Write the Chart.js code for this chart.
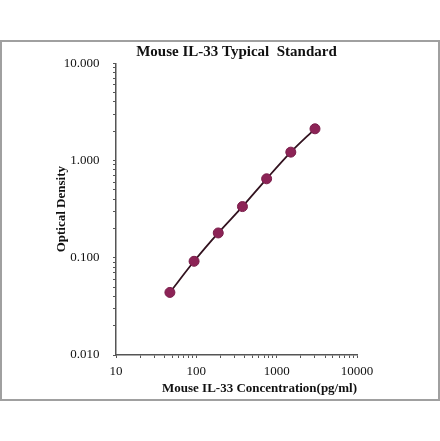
<!DOCTYPE html>
<html>
<head>
<meta charset="utf-8">
<script src="https://cdn.jsdelivr.net/npm/chart.js@4"></script>
<style>
  html, body { margin: 0; padding: 0; background: #fff; }
  #wrap { position: relative; width: 440px; height: 441px; }
  #frame { position: absolute; left: 0; top: 40px; width: 436px; height: 357px; border: 2px solid #a0a0a0; box-sizing: content-box; }
  canvas { position: absolute; left: 0; top: 0; }
</style>
</head>
<body>
<div id="wrap">
  <div id="frame"></div>
  <canvas id="chart" width="440" height="441"></canvas>
</div>
<script>
// 标准曲线数据
const concentrations = [46.875, 93.75, 187.5, 375, 750, 1500, 3000];
const odValues = [0.044, 0.092, 0.18, 0.336, 0.649, 1.22, 2.12];

// 坐标轴刻度
const xDecades = [10, 100, 1000, 10000];
const yDecades = [0.01, 0.1, 1, 10];
const minorSteps = [2, 3, 4, 5, 6, 7, 8, 9];

const serif = "'Times New Roman', 'Liberation Serif', serif";

function buildTicks(decades) {
    const ticks = [];
    decades.forEach((d, i) => {
        ticks.push({ value: d });
        if (i < decades.length - 1) {
            minorSteps.forEach(m => ticks.push({ value: d * m }));
        }
    });
    return ticks;
}

function isDecade(v) {
    const l = Math.log10(v);
    return Math.abs(l - Math.round(l)) < 1e-9;
}

const ctx = document.getElementById('chart');
new Chart(ctx, {
    type: 'line',
    data: {
        datasets: [{
            data: concentrations.map((c, i) => ({ x: c, y: odValues[i] })),
            borderColor: '#331320',
            borderWidth: 1.8,
            backgroundColor: '#8c2356',
            pointBackgroundColor: '#8c2356',
            pointBorderColor: '#7a1d4a',
            pointBorderWidth: 1,
            pointRadius: 5,
            tension: 0.3,
            cubicInterpolationMode: 'monotone'
        }]
    },
    options: {
        responsive: false,
        animation: false,
        layout: { padding: { left: 0, top: 0, right: 83, bottom: 0 } },
        plugins: {
            legend: { display: false },
            tooltip: { enabled: false },
            title: {
                display: true,
                text: 'Mouse IL-33 Typical  Standard',
                fullSize: false,
                color: '#111',
                font: { family: serif, size: 15, weight: 'bold' },
                padding: { top: 43, bottom: 2.3 }
            }
        },
        scales: {
            x: {
                type: 'logarithmic',
                min: 10,
                max: 10000,
                afterBuildTicks: s => { s.ticks = buildTicks(xDecades); },
                afterFit: s => { s.height = 86; },
                border: { color: '#555', width: 1.5 },
                grid: { drawOnChartArea: false, drawTicks: true, tickLength: 3, color: '#555' },
                ticks: {
                    autoSkip: false,
                    maxRotation: 0,
                    padding: 5.6,
                    color: '#111',
                    font: { family: serif, size: 13 },
                    callback: v => isDecade(v) ? String(Math.round(v)) : ''
                },
                title: {
                    display: true,
                    text: 'Mouse IL-33 Concentration(pg/ml)',
                    align: 'end',
                    color: '#111',
                    font: { family: serif, size: 13, weight: 'bold' },
                    padding: { top: 0, bottom: 44.2 }
                }
            },
            y: {
                type: 'logarithmic',
                min: 0.01,
                max: 10,
                afterBuildTicks: s => { s.ticks = buildTicks(yDecades); },
                afterFit: s => { s.width = 116; },
                border: { color: '#555', width: 1.5 },
                grid: { drawOnChartArea: false, drawTicks: true, tickLength: 3, color: '#555' },
                ticks: {
                    autoSkip: false,
                    padding: 13.4,
                    color: '#111',
                    font: { family: serif, size: 13 },
                    callback: v => isDecade(v) ? v.toFixed(3) : ''
                },
                title: {
                    display: true,
                    text: 'Optical Density',
                    color: '#111',
                    font: { family: serif, size: 13, weight: 'bold' },
                    padding: { top: 53.9, bottom: 0 }
                }
            }
        }
    }
});
</script>
</body>
</html>
